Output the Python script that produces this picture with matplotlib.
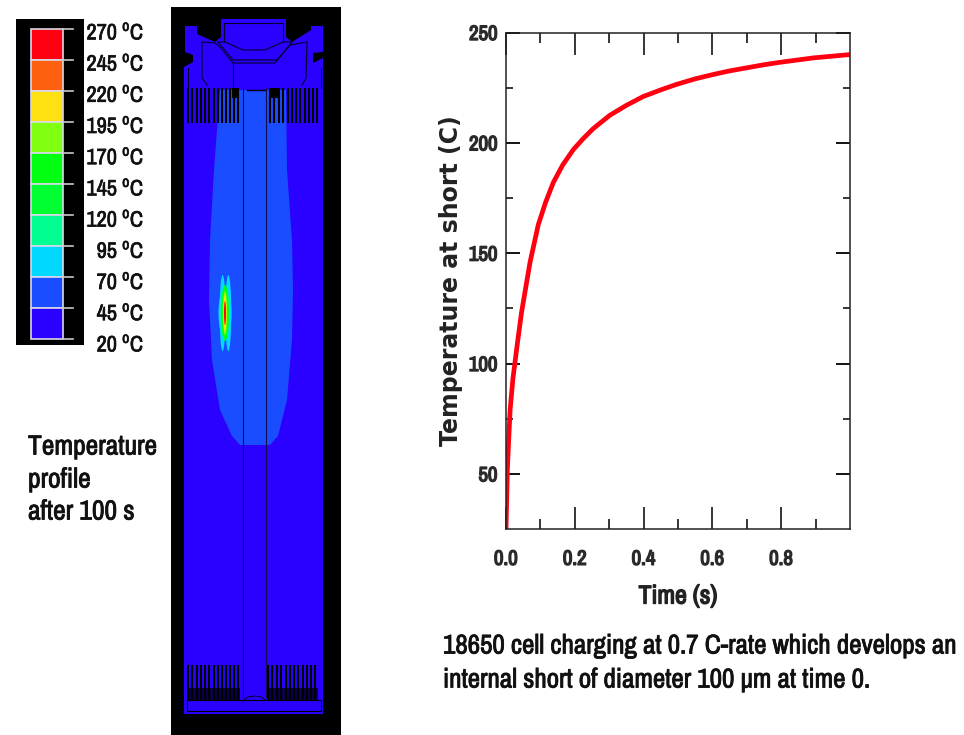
import matplotlib
matplotlib.use("Agg")
import matplotlib.pyplot as plt
import matplotlib.patheffects as pe
from matplotlib.patches import Polygon, Rectangle, Ellipse

# ---- data ----
time_s = [0.0, 0.002, 0.004, 0.008, 0.012, 0.02, 0.033, 0.045, 0.07, 0.094, 0.115, 0.1375, 0.165, 0.196, 0.225, 0.254,
          0.302, 0.35, 0.399, 0.45, 0.496, 0.55, 0.603, 0.65, 0.70, 0.75, 0.797, 0.85, 0.894, 0.95, 1.0]
temp_c = [25, 38, 52, 66, 79, 93, 109, 123, 146, 163, 173, 182, 190, 197, 202, 206.5,
          212.5, 217, 221, 224, 226.5, 229, 231, 232.6, 234, 235.4, 236.5, 237.6, 238.5, 239.3, 240]
x_ticks = [0.0, 0.2, 0.4, 0.6, 0.8]
x_tick_labels = ["0.0", "0.2", "0.4", "0.6", "0.8"]
x_minor = [0.1, 0.3, 0.5, 0.7, 0.9]
y_ticks = [50, 100, 150, 200, 250]
y_minor = [75, 125, 175, 225]
scale_values = [270, 245, 220, 195, 170, 145, 120, 95, 70, 45, 20]
scale_colors = ["#ff0010", "#ff6010", "#ffe010", "#80ff10", "#00ff10", "#00ff30", "#00ff90", "#00d8ff", "#1a4dff", "#2a00ff"]

W, H = 964, 735
FONT = ["Archivo Narrow", "Liberation Sans"]
plt.rcParams["mathtext.fontset"] = "custom"
plt.rcParams["mathtext.rm"] = "Archivo Narrow"
INK = "#111111"


def heavy(width, color=INK):
    return [pe.withStroke(linewidth=width, foreground=color)]


fig = plt.figure(figsize=(W / 100, H / 100), dpi=100, facecolor="white")

# full-figure pixel canvas for the cell drawing and the annotations
bg = fig.add_axes([0, 0, 1, 1])
bg.set_xlim(0, W)
bg.set_ylim(H, 0)
bg.axis("off")

# ---- colour scale ----
bg.add_patch(Rectangle((16, 19), 68, 326, fc="black", ec="none"))
top, step = 29.0, 30.97
for i, c in enumerate(scale_colors):
    bg.add_patch(Rectangle((31, top + i * step), 32, step, fc=c, ec="#d8d8e8", lw=1.2))
for i, v in enumerate(scale_values):
    y = top + i * step
    bg.plot([63, 73], [y, y], color="#c8c8c8", lw=1.2)
    bg.text(144, 33 + i * 31.2, f"{v} " + r"$^{\mathrm{o}}$C", ha="right", va="center", fontsize=16, family=FONT,
            color=INK, path_effects=heavy(0.5))

for ty, s in [(447, "Temperature"), (480, "profile"), (512, "after 100 s")]:
    bg.text(28, ty, s, ha="left", va="center", fontsize=19.8, family=FONT, color=INK, path_effects=heavy(0.6))

# ---- cell cross-section ----
BLUE, LBLUE = scale_colors[-1], scale_colors[-2]
bg.add_patch(Rectangle((171, 7), 170, 728, fc="black", ec="none"))
bg.add_patch(Rectangle((184, 88), 139, 626, fc=BLUE, ec="none"))
# cap
bg.add_patch(Polygon([(185, 26), (197, 26), (197, 34), (215, 42), (221, 37), (221, 19), (286, 19), (286, 37),
                      (292, 42), (311, 30), (311, 26), (323, 26), (323, 52), (313, 53), (313, 63), (323, 58),
                      (323, 95), (184, 95), (184, 67), (193, 62), (193, 55), (185, 52)], fc=BLUE, ec="none"))
k = dict(color="#000030", lw=0.8)
bg.plot([224, 224, 283, 283], [42, 23, 23, 42], **k)
bg.plot([218, 225, 243, 265, 283, 292], [42, 42, 50, 50, 42, 42], **k)
bg.plot([207, 202, 202, 215, 220, 233, 275, 290, 307, 306, 302], [85, 78, 42, 43, 47, 63, 63, 45, 42, 78, 85], **k)
bg.plot([218, 233, 277, 292], [42, 60, 60, 42], **k)
bg.plot([233, 233], [63, 88], **k)
bg.plot([188, 188], [68, 88], **k)
bg.plot([321, 321], [68, 88], **k)
# warmer band
bg.add_patch(Polygon([(220, 90), (286, 90), (287, 170), (292, 240), (293, 290), (292, 340),
                      (287, 400), (278, 436), (270, 445), (240, 445), (232, 436), (220, 410), (212, 360),
                      (209, 300), (210, 240), (214, 170)], fc=LBLUE, ec="none"))
# jelly-roll tabs at top and bottom
for x0 in [188, 192, 197, 201, 205, 209, 214, 218, 222, 226, 230, 234, 238,
           270, 274, 279, 283, 288, 292, 296, 300, 305, 309, 313, 317]:
    bg.plot([x0, x0], [88, 123], color="black", lw=1.5, solid_capstyle="butt")
    xb = x0 if x0 < 240 else x0 - 2
    bg.plot([xb, xb], [665, 700], color="black", lw=1.5, solid_capstyle="butt")
bg.add_patch(Rectangle((232, 88), 7, 10, fc="black", ec="none"))
bg.add_patch(Rectangle((270, 88), 9, 10, fc="black", ec="none"))
bg.add_patch(Rectangle((188, 688), 52, 12, fc="black", ec="none", alpha=0.7))
bg.add_patch(Rectangle((268, 688), 50, 12, fc="black", ec="none", alpha=0.7))
bg.plot([247, 265], [90, 90], color="black", lw=1.0)
bg.plot([242.5, 242.5], [88, 697], color="#101050", lw=0.8)
bg.plot([265.7, 265.7], [88, 697], color="#101050", lw=0.8)
bg.plot([187, 321, 321, 187, 187], [700, 700, 711, 711, 700], color="black", lw=0.8)
bg.add_patch(Polygon([(242, 701), (248, 697), (255, 696), (261, 697), (267, 701)], fc=BLUE, ec="black", lw=0.6))
bg.add_patch(Rectangle((243, 700), 24, 5, fc=BLUE, ec="none"))
# hot spot: nested isotherms
bg.add_patch(Ellipse((222.6, 313), 6, 76, fc=scale_colors[7], ec="none"))
bg.add_patch(Ellipse((228.3, 313), 6, 76, fc=scale_colors[7], ec="none"))
for w, h, c in [(13, 50, scale_colors[7]), (10, 50, scale_colors[6]), (7.5, 56, scale_colors[4]),
                (4.5, 44, scale_colors[3]), (2.8, 38, scale_colors[2]), (2.0, 24, scale_colors[0])]:
    bg.add_patch(Ellipse((225, 313), w, h, fc=c, ec="none"))

# ---- temperature chart ----
ax = fig.add_axes([506 / W, 1 - 529 / H, 344 / W, 496.5 / H])
ax.plot(time_s, temp_c, color="#ff0010", lw=3.4, solid_capstyle="butt")
ax.set_xlim(0, 1.0)
ax.set_ylim(25, 250)
ax.set_xticks(x_ticks, x_tick_labels)
ax.set_xticks(x_minor, minor=True)
ax.set_yticks(y_ticks)
ax.set_yticks(y_minor, minor=True)
ax.tick_params(axis="x", which="major", direction="in", top=True, length=15.5, width=1.1, pad=15, labelsize=15)
ax.tick_params(axis="x", which="minor", direction="in", top=True, length=7.5, width=1.1)
ax.tick_params(axis="y", which="major", direction="in", right=True, length=10, width=1.3, pad=6, labelsize=15)
ax.tick_params(axis="y", which="minor", direction="in", right=True, length=5, width=1.1)
for lab in ax.get_xticklabels() + ax.get_yticklabels():
    lab.set_fontfamily(FONT)
    lab.set_color("#2a2a2a")
    lab.set_path_effects(heavy(1.0, "#2a2a2a"))
for s in ax.spines.values():
    s.set_linewidth(1.1)
    s.set_color("#222222")

bg.text(678, 596, "Time (s)", ha="center", va="center", fontsize=18.6, family=FONT, color="#222222",
        path_effects=heavy(1.0, "#222222"))
bg.text(451, 281, "Temperature at short (C)", ha="center", va="center", rotation=90, fontsize=17,
        family="DejaVu Sans", weight="bold", color="#222222")
bg.text(443, 646, "18650 cell charging at 0.7 C-rate which develops an", ha="left", va="center",
        fontsize=19.5, family=FONT, color=INK, path_effects=heavy(0.6))
bg.text(443, 680, "internal short of diameter 100 µm at time 0.", ha="left", va="center",
        fontsize=19.5, family=FONT, color=INK, path_effects=heavy(0.6))

fig.savefig("out.png", dpi=100, facecolor="white")
